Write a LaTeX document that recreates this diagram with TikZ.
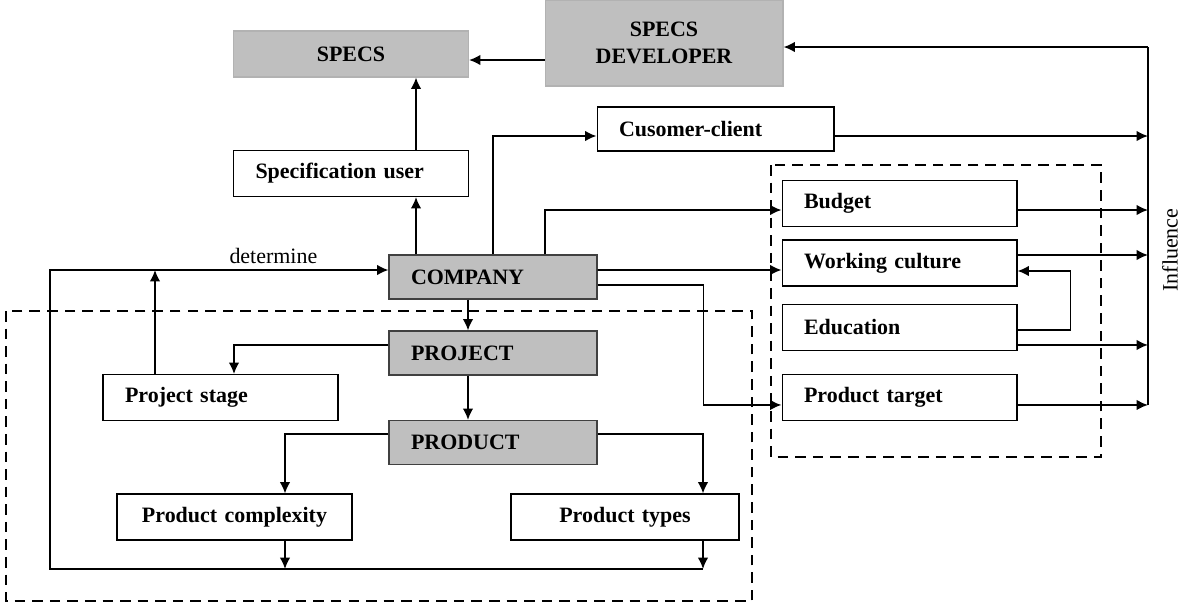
\documentclass[tikz,border=0pt]{standalone}
\usepackage{fontspec}
\setmainfont{Liberation Serif}
\usetikzlibrary{arrows,arrows.meta,calc,positioning}

\begin{document}
\begin{tikzpicture}[x=0.02cm, y=-0.02cm, >={Latex[length=6.5pt,width=6pt]}]
        \tikzstyle{block} = [draw, fill=white, line width=0.6pt, rectangle, minimum height=0.92cm, text width=3.82cm, inner xsep=0.44cm, align=left, font=\fontsize{12.5}{15}\selectfont\bfseries]
        \tikzstyle{grey} = [block, fill=gray!50, draw=black!75, text width=3.28cm, minimum height=0.88cm]
        \tikzstyle{spec} = [block, fill=gray!50, draw=gray!60, align=center]
        \tikzstyle{line} = [line width=1pt]
        \tikzstyle{frame} = [line width=0.9pt, dash pattern=on 6pt off 4pt]

        \useasboundingbox (0,0) rectangle (1181,603);

        \node [spec] (specs) at (351,54) {SPECS};
        \node [spec, text width=3.88cm, minimum height=1.72cm] (dev) at (664,43) {SPECS\\DEVELOPER};
        \node [block] (spu) at (351,173.5) {Specification user};
        \node [grey] (company) at (493,277) {COMPANY};
        \node [grey, below of=company, node distance=1.52cm] (project) {PROJECT};
        \node [grey, below of=project, node distance=1.79cm] (product) {PRODUCT};
        \node [block] (stage) at (220.5,397.5) {Project stage};
        \node [block, align=center] (complex) at (234.5,517) {Product complexity};
        \node [block, align=center, text width=3.68cm] (types) at (625,517) {Product types};
        \node [block, text width=3.86cm, minimum height=0.88cm] (cust) at (715.5,129) {Cusomer-client};
        \node [block] (budget) at (899.5,203.5) {Budget};
        \node [block, below of=budget, node distance=1.19cm] (culture) {Working culture};
        \node [block, below of=culture, node distance=1.29cm] (edu) {Education};
        \node [block, below of=edu, node distance=1.4cm] (target) {Product target};
        \node [rotate=90, font=\fontsize{12.5}{15}\selectfont] (infl) at (1170,250) {Influence};

        \coordinate (inftop) at (1148,47);
        \coordinate (infbot) at (1148,405);
        \coordinate (det) at (50,270);
        \coordinate (loop) at (50,569);

        % frames
        \draw [frame] (6,311) rectangle (752,601);
        \draw [frame] (771,165) rectangle (1101,457);

        % influence
        \draw [line width=0.6pt] (infbot) -- (inftop);
        \draw [line,->] (inftop) -- (inftop -| dev.east);
        \draw [line,->] ($(dev.west)+(0,17)$) -- ($(specs.east)+(0,6)$);
        \foreach \n/\dy in {cust/7, budget/6.5, culture/-8, edu/17.5, target/7.5}
            \draw [line,->] ($(\n.east)+(0,\dy)$) -- ($(inftop |- \n.east)+(0,\dy)$);

        \draw [line,->] ($(spu.north)+(65,0)$) -- ($(specs.south)+(65,0)$);
        \draw [line,->] ($(company.north)+(-77,0)$) -- ($(spu.south)+(65,0)$);
        \draw [line,->] (company.north) |- ($(cust.west)+(0,7)$);
        \draw [line,->] ($(company.north)+(52,0)$) |- ($(budget.west)+(0,6.5)$);
        \draw [line,->] ($(company.east)+(0,-7)$) -- ($(culture.west)+(0,7)$);
        \draw [line,->] ($(company.east)+(0,8)$) -- ++(106,0) |- ($(target.west)+(0,7.5)$);
        \draw [line,->] ($(edu.east)+(0,2.5)$) -- ++(53,0) |- ($(culture.east)+(0,8)$);

        \draw [line,->] ($(company.south)+(-25,0)$) -- ($(project.north)+(-25,0)$);
        \draw [line,->] ($(project.south)+(-25,0)$) -- ($(product.north)+(-25,0)$);
        \draw [line,->] ($(project.west)+(0,-8)$) -| ($(stage.north)+(13.5,0)$);
        \draw [line,->] ($(stage.north)+(-65.5,0)$) -- ($(det -| stage.north)+(-65.5,0)$);
        \draw [line,->] ($(product.west)+(0,-8.5)$) -| ($(complex.north)+(50.5,0)$);
        \draw [line,->] ($(product.east)+(0,-8.5)$) -| ($(types.north)+(78,0)$);
        \draw [line,->] ($(complex.south)+(50.5,0)$) -- ($(loop -| complex.south)+(50.5,0)$);
        \draw [line,->] ($(types.south)+(78,0)$) -- ($(loop -| types.south)+(78,0)$);
        \draw [line,->] ($(loop -| types.south)+(78,0)$) -- (loop) -- (det) -- node [above, pos=0.66, font=\fontsize{12.5}{15}\selectfont] {determine} ($(company.west)+(0,-7)$);
    \end{tikzpicture}
\end{document}
